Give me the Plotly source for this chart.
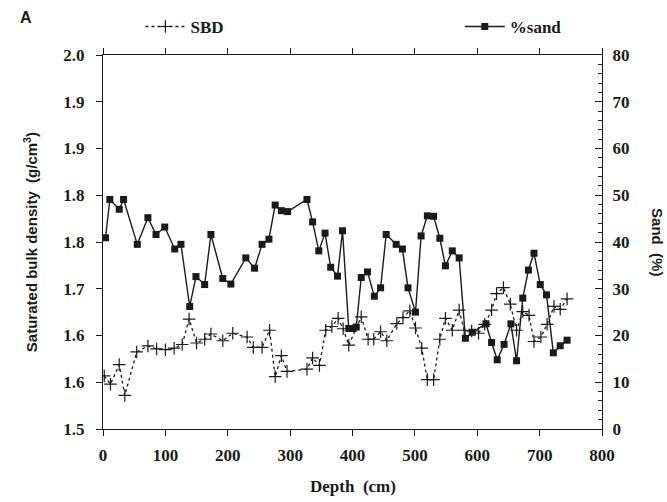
import plotly.graph_objects as go

# Core depth (cm) and percent sand
sand_depth = [4, 11, 26, 33, 55, 72, 85, 99, 115, 125, 139, 149, 163, 173, 192, 205,
              229, 243, 255, 266, 276, 286, 296, 327, 336, 346, 356, 365, 376, 384,
              394, 401, 406, 414, 424, 435, 445, 454, 470, 480, 489, 501, 510, 520,
              530, 540, 549, 560, 571, 581, 592, 614, 623, 632, 643, 654, 663, 673,
              682, 691, 701, 711, 722, 733, 744]
sand_pct = [40.9, 49.1, 47.0, 49.1, 39.5, 45.2, 41.6, 43.2, 38.5, 39.5, 26.2, 32.6,
            30.9, 41.6, 32.2, 31.0, 36.6, 34.4, 39.5, 40.6, 47.9, 46.7, 46.5, 49.1,
            44.3, 38.1, 41.9, 34.6, 32.7, 42.4, 21.5, 21.5, 21.8, 32.4, 33.6, 28.4,
            30.2, 41.6, 39.5, 38.5, 30.2, 25.0, 41.3, 45.6, 45.5, 40.8, 34.9, 38.1,
            36.6, 19.4, 20.7, 22.5, 18.5, 14.8, 18.1, 22.5, 14.6, 28.0, 34.0, 37.6,
            30.9, 28.7, 16.3, 17.8, 19.0]

# Core depth (cm) and saturated bulk density (g/cm3)
sbd_depth = [2, 12, 26, 35, 54, 72, 86, 100, 114, 127, 138, 150, 163, 173, 192, 208,
             231, 241, 255, 267, 276, 286, 295, 327, 336, 347, 357, 367, 377, 385,
             394, 414, 425, 434, 445, 455, 471, 481, 492, 501, 511, 520, 530, 540,
             549, 560, 571, 579, 591, 602, 612, 623, 631, 642, 653, 663, 673, 683,
             691, 702, 712, 723, 733, 744]
sbd = [1.571, 1.560, 1.586, 1.545, 1.603, 1.611, 1.607, 1.606, 1.608, 1.613, 1.647,
       1.615, 1.620, 1.627, 1.618, 1.628, 1.623, 1.609, 1.609, 1.632, 1.570, 1.598,
       1.577, 1.580, 1.595, 1.585, 1.632, 1.637, 1.648, 1.634, 1.612, 1.650, 1.620,
       1.620, 1.630, 1.618, 1.641, 1.649, 1.658, 1.635, 1.608, 1.566, 1.566, 1.620,
       1.648, 1.632, 1.659, 1.632, 1.631, 1.628, 1.640, 1.659, 1.681, 1.689, 1.667,
       1.632, 1.657, 1.652, 1.617, 1.623, 1.640, 1.664, 1.660, 1.674]

# Axis ticks (left labels rounded to one decimal)
sbd_tickvals = [1.5, 1.5625, 1.625, 1.6875, 1.75, 1.8125, 1.875, 1.9375, 2.0]
sbd_ticktext = ["1.5", "1.6", "1.6", "1.7", "1.8", "1.8", "1.9", "1.9", "2.0"]
depth_ticks = [0, 100, 200, 300, 400, 500, 600, 700, 800]
sand_ticks = [0, 10, 20, 30, 40, 50, 60, 70, 80]

SERIF = "Liberation Serif"
SANS = "Liberation Sans"
INK = "#1a1a1a"


def bold(labels):
    return ["<b>%s</b>" % s for s in labels]


fig = go.Figure()

fig.add_trace(go.Scatter(
    x=sbd_depth, y=sbd, name="<b>SBD</b>", mode="lines+markers",
    line=dict(color=INK, width=1.3, dash="dot"),
    marker=dict(symbol="cross-thin", size=9, line=dict(color=INK, width=1.2)),
    legend="legend", yaxis="y", showlegend=True,
))

fig.add_trace(go.Scatter(
    x=sand_depth, y=sand_pct, name="<b>%sand</b>", mode="lines+markers",
    line=dict(color=INK, width=1.4),
    marker=dict(symbol="square", size=7, color=INK),
    legend="legend2", yaxis="y2", showlegend=True,
))

tick_font = dict(family=SERIF, size=17, color=INK)
legend_font = dict(family=SERIF, size=17, color=INK)

fig.update_layout(
    width=667, height=502,
    showlegend=True,
    font=dict(family=SERIF, color=INK),
    margin=dict(l=103, r=65, t=55, b=73, autoexpand=False),
    paper_bgcolor="white", plot_bgcolor="white",
    xaxis=dict(
        range=[0, 800], tickvals=depth_ticks, ticktext=bold([str(v) for v in depth_ticks]),
        ticks="outside", ticklen=6,
        tickcolor=INK, showline=True, linecolor=INK, linewidth=1.2,
        mirror="ticks", showgrid=False, zeroline=False, tickfont=tick_font,
        ticklabelstandoff=4,
    ),
    yaxis=dict(
        range=[1.5, 2.0], tickvals=sbd_tickvals, ticktext=bold(sbd_ticktext),
        ticks="outside", ticklen=6, tickcolor=INK, showline=True, linecolor=INK,
        linewidth=1.2, showgrid=False, zeroline=False, tickfont=tick_font,
        ticklabelstandoff=8,
    ),
    yaxis2=dict(
        range=[0, 80], tickvals=sand_ticks, ticktext=bold([str(v) for v in sand_ticks]),
        overlaying="y", side="right",
        ticks="inside", ticklen=7, tickcolor=INK, showline=True, linecolor=INK,
        linewidth=1.2, showgrid=False, zeroline=False, tickfont=tick_font,
        minor=dict(dtick=2, ticks="inside", ticklen=4, tickcolor=INK),
        ticklabelstandoff=6,
    ),
    legend=dict(
        x=0.075, y=1.075, xanchor="left", yanchor="middle", orientation="h",
        font=legend_font, bgcolor="rgba(0,0,0,0)", itemwidth=40,
    ),
    legend2=dict(
        x=0.715, y=1.075, xanchor="left", yanchor="middle", orientation="h",
        font=legend_font, bgcolor="rgba(0,0,0,0)", itemwidth=40,
    ),
    annotations=[
        dict(text="<b>A</b>", xref="paper", yref="paper", x=-0.155, y=1.1,
             xanchor="center", yanchor="middle", showarrow=False,
             font=dict(family=SANS, size=16, color=INK)),
        dict(text="<b>Saturated bulk density  (g/cm<sup>3</sup>)</b>", xref="paper",
             yref="paper", x=-0.146, y=0.5, xanchor="center", yanchor="middle",
             textangle=-90, showarrow=False,
             font=dict(family=SANS, size=15, color=INK)),
        dict(text="<b>Sand  (%)</b>", xref="paper", yref="paper", x=1.112, y=0.5,
             xanchor="center", yanchor="middle", textangle=90, showarrow=False,
             font=dict(family=SANS, size=15, color=INK)),
        dict(text="<b>Depth  (cm)</b>", xref="paper", yref="paper", x=0.5, y=-0.155,
             xanchor="center", yanchor="middle", showarrow=False,
             font=dict(family=SERIF, size=17, color=INK)),
    ],
)

fig.write_html("out.html")
